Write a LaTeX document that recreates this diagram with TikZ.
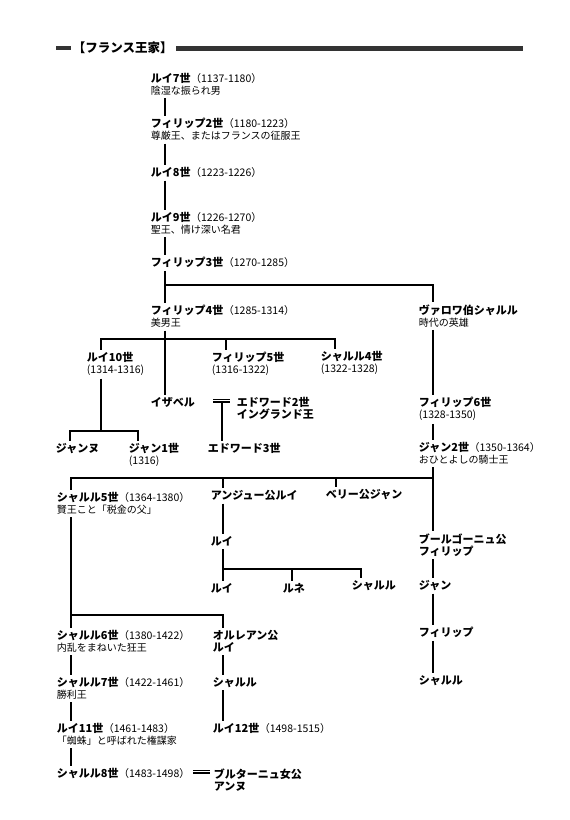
\documentclass[tikz,border=0pt]{standalone}
\usepackage{fontspec}
\setmainfont{Noto Sans CJK JP}
\newcommand{\yrs}[1]{{\mdseries\fontsize{10.5}{12}\selectfont （#1）}}
\newcommand{\yrl}[1]{{\mdseries\fontsize{10.5}{12}\selectfont (#1)}}
\newcommand{\epi}[1]{{\mdseries\fontsize{10}{12}\selectfont #1}}

\begin{document}
\begin{tikzpicture}[x=1pt,y=-1pt,line width=1.8pt,
  person/.style={anchor=north west,inner xsep=0pt,inner ysep=2pt,align=left,
    font=\fontsize{11}{12}\selectfont\bfseries},
  heading/.style={anchor=west,inner sep=0pt,font=\fontsize{12.5}{15}\selectfont\bfseries},
  link/.style={line width=1.8pt},
  wed/.style={double,double distance=1.6pt,line width=1.2pt}]
  \fill[white] (0,0) rectangle (570,820);
  \useasboundingbox (0,0) rectangle (570,820);

  \node[heading] (ttl) at (72,48) {【フランス王家】};
  \fill[black!80] (56,46) rectangle (71,50);
  \fill[black!80] ([xshift=2pt,yshift=2.5pt]ttl.east) rectangle (523,50.5);

  \node[person] (l7) at (150,70.5) {ルイ7世\yrs{1137-1180}\\\epi{陰湿な振られ男}};
  \node[person] (p2) at (150,115.5) {フィリップ2世\yrs{1180-1223}\\\epi{尊厳王、またはフランスの征服王}};
  \node[person] (l8) at (150,164.5) {ルイ8世\yrs{1223-1226}};
  \node[person] (l9) at (150,209.5) {ルイ9世\yrs{1226-1270}\\\epi{聖王、情け深い名君}};
  \node[person] (p3) at (150,254.5) {フィリップ3世\yrs{1270-1285}};
  \node[person] (p4) at (150,302.5) {フィリップ4世\yrs{1285-1314}\\\epi{美男王}};
  \node[person] (valois) at (418,301.5) {ヴァロワ伯シャルル\\\epi{時代の英雄}};
  \node[person] (l10) at (86,349.5) {ルイ10世\\\yrl{1314-1316}};
  \node[person] (p5) at (211,349.5) {フィリップ5世\\\yrl{1316-1322}};
  \node[person] (c4) at (320,348.5) {シャルル4世\\\yrl{1322-1328}};
  \node[person] (isa) at (150,394.5) {イザベル};
  \node[person] (ed2) at (236,394.5) {エドワード2世\\イングランド王};
  \node[person] (jeanne) at (55,440.5) {ジャンヌ};
  \node[person] (j1) at (128,440.5) {ジャン1世\\\yrl{1316}};
  \node[person] (ed3) at (207,440.5) {エドワード3世};
  \node[person] (p6) at (418,394.5) {フィリップ6世\\\yrl{1328-1350}};
  \node[person] (j2) at (418,439.5) {ジャン2世\yrs{1350-1364}\\\epi{おひとよしの騎士王}};
  \node[person] (c5) at (56,489.5) {シャルル5世\yrs{1364-1380}\\\epi{賢王こと「税金の父」}};
  \node[person] (anjou) at (210,487.5) {アンジュー公ルイ};
  \node[person] (berry) at (325,486.5) {ベリー公ジャン};
  \node[person] (burg) at (418,530.5) {ブールゴーニュ公\\フィリップ};
  \node[person] (louA) at (210,533.5) {ルイ};
  \node[person] (louB) at (210,580.5) {ルイ};
  \node[person] (rene) at (282,580.5) {ルネ};
  \node[person] (chaA) at (351,577.5) {シャルル};
  \node[person] (jeaB) at (418,577.5) {ジャン};
  \node[person] (phiB) at (418,624.5) {フィリップ};
  \node[person] (chaB) at (418,672.5) {シャルル};
  \node[person] (c6) at (56,627.5) {シャルル6世\yrs{1380-1422}\\\epi{内乱をまねいた狂王}};
  \node[person] (orl) at (212,627.5) {オルレアン公\\ルイ};
  \node[person] (c7) at (56,674.5) {シャルル7世\yrs{1422-1461}\\\epi{勝利王}};
  \node[person] (chaO) at (212,674.5) {シャルル};
  \node[person] (l11) at (56,720.5) {ルイ11世\yrs{1461-1483}\\\epi{「蜘蛛」と呼ばれた権謀家}};
  \node[person] (l12) at (212,720.5) {ルイ12世\yrs{1498-1515}};
  \node[person] (c8) at (56,765.5) {シャルル8世\yrs{1483-1498}};
  \node[person] (anne) at (213,765.5) {ブルターニュ女公\\アンヌ};

  \coordinate (k1) at (165,285);
  \coordinate (k2) at (165,339);
  \coordinate (k3) at (101,431);
  \coordinate (k4) at (433,478);
  \coordinate (k5) at (223,569);
  \coordinate (k6) at (71,615);

  \draw[link] ([xshift=15pt]l7.south west) -- ([xshift=15pt]p2.north west);
  \draw[link] ([xshift=15pt]p2.south west) -- ([xshift=15pt]l8.north west);
  \draw[link] ([xshift=15pt]l8.south west) -- ([xshift=15pt]l9.north west);
  \draw[link] ([xshift=15pt]l9.south west) -- ([xshift=15pt]p3.north west);
  \draw[link] ([xshift=15pt]p3.south west) -- ([xshift=15pt]p4.north west);
  \draw[link] (k1) -| ([xshift=15pt]valois.north west);
  \draw[link] ([xshift=15pt]p4.south west) -- ([xshift=15pt]isa.north west);
  \draw[link] ([xshift=15pt]l10.north west) |- (k2);
  \draw[link] ([xshift=15pt]p5.north west) |- (k2);
  \draw[link] ([xshift=15pt]c4.north west) |- (k2);

  \draw[link] ([xshift=15pt]l10.south west) -- (k3);
  \draw[link] ([xshift=15pt]jeanne.north west) |- (k3);
  \draw[link] ([xshift=10pt]j1.north west) |- (k3);

  \draw[link] ([xshift=-14pt,yshift=-7pt]ed2.north west) -- ([xshift=15pt]ed3.north west);
  \draw[wed] ([xshift=-23pt,yshift=-6pt]ed2.north west) -- ([xshift=-6pt,yshift=-6pt]ed2.north west);

  \draw[link] ([xshift=15pt]valois.south west) -- ([xshift=15pt]p6.north west);
  \draw[link] ([xshift=15pt]p6.south west) -- ([xshift=15pt]j2.north west);
  \draw[link] ([xshift=15pt]j2.south west) -- ([xshift=15pt]burg.north west);
  \draw[link] ([xshift=15pt]c5.north west) |- (k4);
  \draw[link] ([xshift=13pt]anjou.north west) |- (k4);
  \draw[link] ([xshift=11pt]berry.north west) |- (k4);

  \draw[link] ([xshift=13pt]anjou.south west) -- ([xshift=13pt]louA.north west);
  \draw[link] ([xshift=13pt]louA.south west) -- ([xshift=13pt]louB.north west);
  \draw[link] ([xshift=10pt]rene.north west) |- (k5);
  \draw[link] ([xshift=10pt]chaA.north west) |- (k5);

  \draw[link] ([xshift=15pt]burg.south west) -- ([xshift=15pt]jeaB.north west);
  \draw[link] ([xshift=15pt]jeaB.south west) -- ([xshift=15pt]phiB.north west);
  \draw[link] ([xshift=15pt]phiB.south west) -- ([xshift=15pt]chaB.north west);

  \draw[link] ([xshift=15pt]c5.south west) -- ([xshift=15pt]c6.north west);
  \draw[link] ([xshift=11pt]orl.north west) |- (k6);
  \draw[link] ([xshift=15pt]c6.south west) -- ([xshift=15pt]c7.north west);
  \draw[link] ([xshift=15pt]c7.south west) -- ([xshift=15pt]l11.north west);
  \draw[link] ([xshift=15pt]l11.south west) -- ([xshift=15pt]c8.north west);
  \draw[link] ([xshift=11pt]orl.south west) -- ([xshift=11pt]chaO.north west);
  \draw[link] ([xshift=11pt]chaO.south west) -- ([xshift=11pt]l12.north west);

  \draw[wed] ([xshift=-20pt,yshift=-6pt]anne.north west) -- ([xshift=-3pt,yshift=-6pt]anne.north west);
\end{tikzpicture}
\end{document}
